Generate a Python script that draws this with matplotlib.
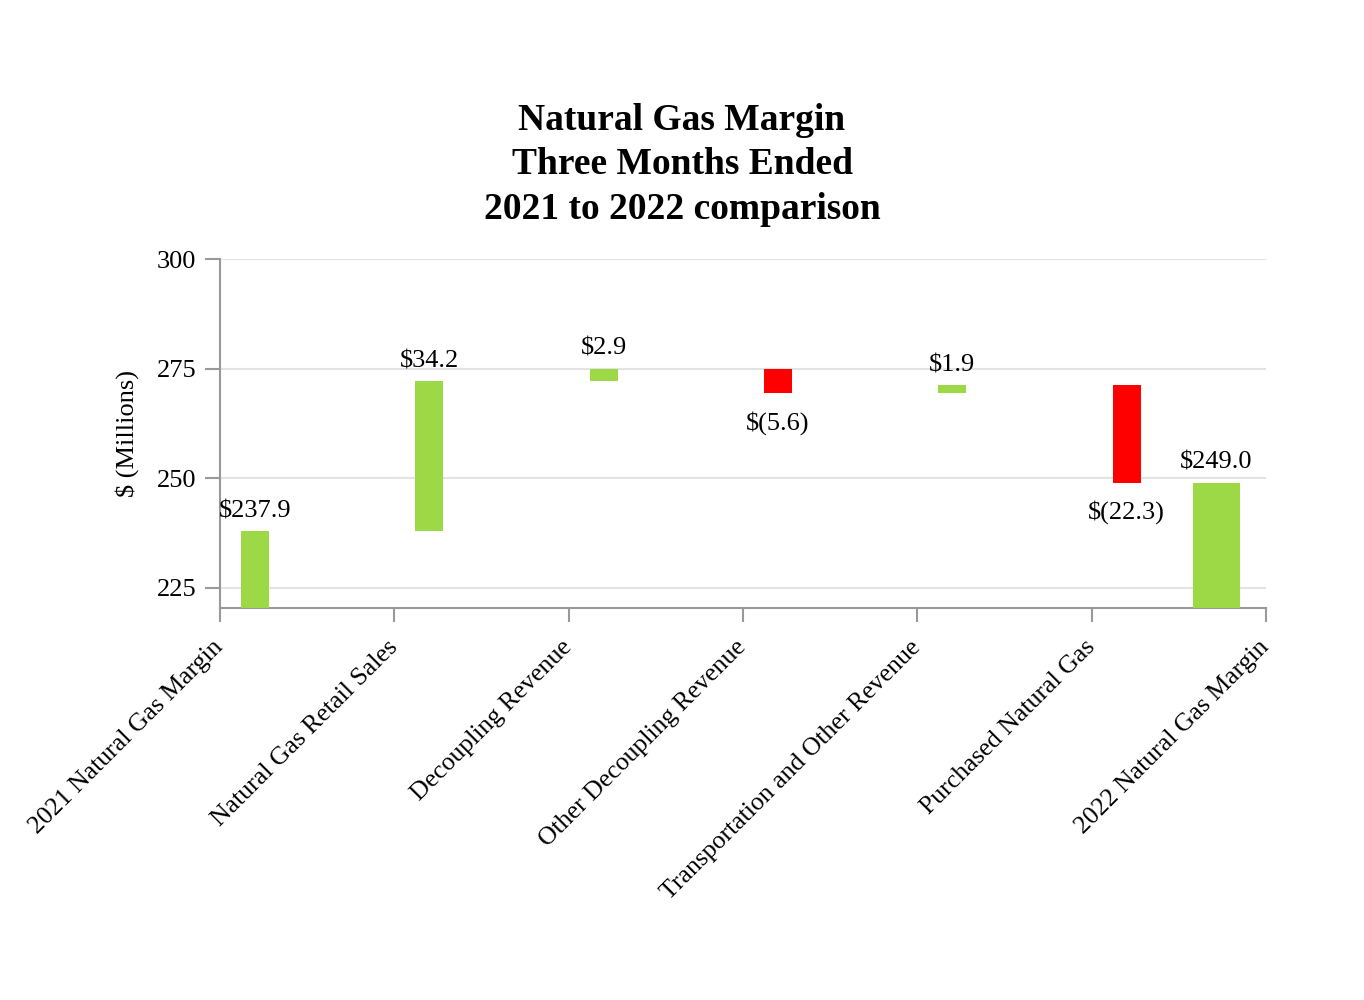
import numpy as np
import matplotlib
matplotlib.use("Agg")
import matplotlib.pyplot as plt

plt.rcParams['font.family'] = ['Liberation Serif', 'DejaVu Serif']

# data
categories = ['2021 Natural Gas Margin', 'Natural Gas Retail Sales', 'Decoupling Revenue',
              'Other Decoupling Revenue', 'Transportation and Other Revenue',
              'Purchased Natural Gas', '2022 Natural Gas Margin']
changes = [237.9, 34.2, 2.9, -5.6, 1.9, -22.3, 249.0]
labels = ['$237.9', '$34.2', '$2.9', '$(5.6)', '$1.9', '$(22.3)', '$249.0']

green = '#9dd946'
red = '#ff0000'
ymin = 220.4

fig = plt.figure(figsize=(13.64, 10), dpi=100)
ax = fig.add_axes([0.1613, 0.392, 0.7669, 0.349])

running = 0.0
n = len(categories)
for i, v in enumerate(changes):
    if i == 0 or i == n - 1:
        bottom, top = ymin, v
        running = v
    else:
        bottom = running if v > 0 else running + v
        top = running + v if v > 0 else running
        running += v
    if i == n - 1:
        xc, w = i - 0.285, 0.27
    else:
        xc, w = i + 0.2, 0.16
    col = green if v > 0 else red
    ax.bar(xc, top - bottom, bottom=bottom, width=w, color=col, zorder=3)
    if v > 0:
        ax.text(xc, top + 2.0, labels[i], ha='center', va='bottom', fontsize=19)
    else:
        ax.text(xc, bottom - 4.0, labels[i], ha='center', va='top', fontsize=19)

ax.set_xlim(0, n - 1)
ax.set_ylim(ymin, 300)
ax.set_yticks([225, 250, 275, 300])
ax.set_xticks(np.arange(n))
ax.set_xticklabels(categories, rotation=45, ha='right', va='center',
                   rotation_mode='anchor', fontsize=18.5)
ax.tick_params(axis='y', labelsize=19, length=11, color='#999999', width=1.5, pad=6)
ax.tick_params(axis='x', length=10, color='#999999', width=1.5, pad=16)
ax.grid(axis='y', color='#e3e3e3', linewidth=1.5, zorder=0)
for s in ['top', 'right']:
    ax.spines[s].set_visible(False)
for s in ['left', 'bottom']:
    ax.spines[s].set_color('#999999')
    ax.spines[s].set_linewidth(1.5)
ax.set_ylabel('$ (Millions)', fontsize=19, labelpad=13)

fig.text(0.5, 0.835, 'Natural Gas Margin\nThree Months Ended\n2021 to 2022 comparison',
         ha='center', va='center', fontsize=27, fontweight='bold', linespacing=1.34)

fig.savefig('out.png', dpi=100)
